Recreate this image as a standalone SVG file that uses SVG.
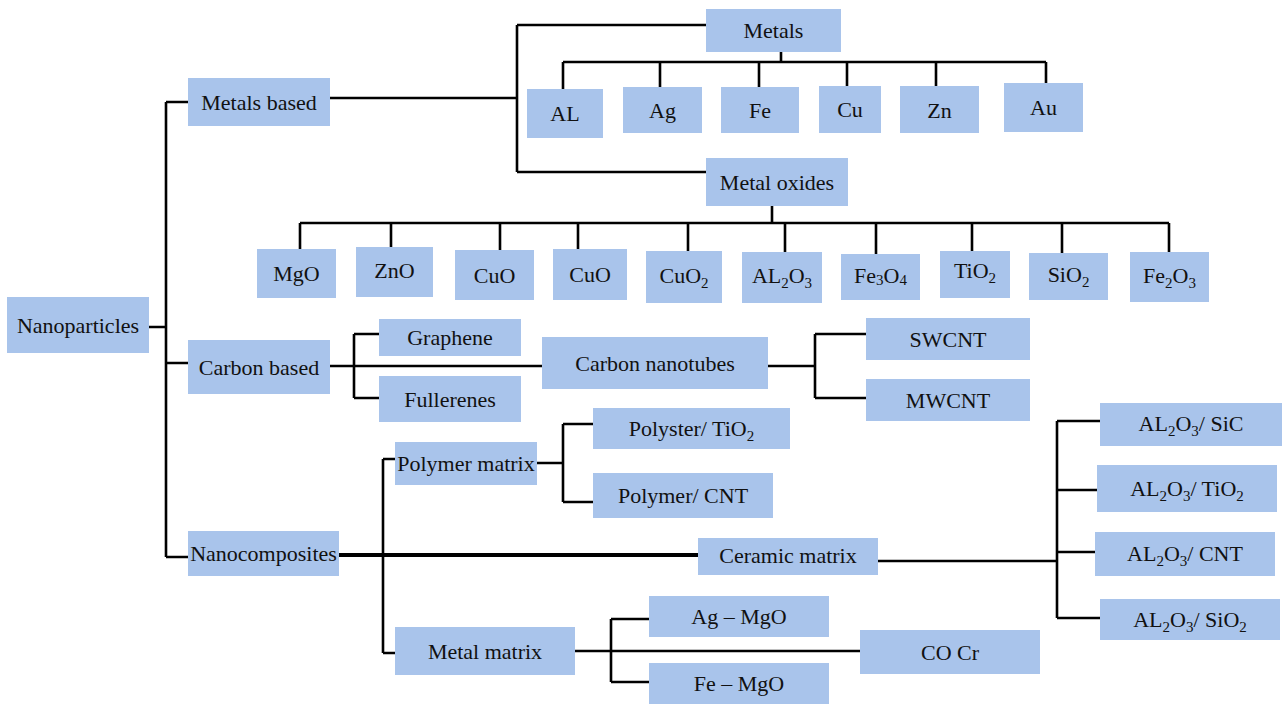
<svg xmlns="http://www.w3.org/2000/svg" width="1282" height="704" viewBox="0 0 1282 704">
<style>
.b{fill:#a9c4eb}
text{font-family:"Liberation Serif","Times New Roman",serif;font-size:22px;fill:#111;text-anchor:middle}
.s{font-size:15px}
.c path{fill:none;stroke:#000;stroke-width:2.6}
</style>
<rect width="1282" height="704" fill="#fff"/>
<g class="c" id="connectors">
<path d="M149 327H166M166 102V557M166 102H188M166 363H188M166 557H188"/>
<path d="M330 98H517M517 25V172M517 25H706M517 172H706"/>
<path d="M781 52V62M563 62H1046M563 62V89M660 62V87M759 62V87M847 62V86M936 62V86M1046 62V83"/>
<path d="M772 206V223M300 223H1169M300 223V249M391 223V247M500 223V250M578 223V249M688 223V251M785 223V252M876 223V254M972 223V251M1062 223V253M1169 223V252"/>
<path d="M330 366H542M354 334V398M354 334H379M354 398H379"/>
<path d="M768 366H815M815 334V398M815 334H866M815 398H866"/>
<path d="M339 555H698" style="stroke-width:4"/>
<path d="M383 459V653M383 459H395M383 653H395"/>
<path d="M537 463H563M563 424V502M563 424H593M563 502H593"/>
<path d="M575 651H860M611 619V682M611 619H649M611 682H649"/>
<path d="M878 561H1057M1057 421V618M1057 421H1100M1057 490H1097M1057 552H1095M1057 618H1100"/>
</g>
<g id="nanoparticles"><rect class="b" x="7" y="297" width="142" height="56"/><text x="78" y="333">Nanoparticles</text></g>
<g id="metals-based"><rect class="b" x="188" y="78" width="142" height="48"/><text x="259" y="110">Metals based</text></g>
<g id="carbon-based"><rect class="b" x="188" y="340" width="142" height="54"/><text x="259" y="375">Carbon based</text></g>
<g id="nanocomposites"><rect class="b" x="188" y="531" width="151" height="45"/><text x="263.5" y="561">Nanocomposites</text></g>
<g id="metals"><rect class="b" x="706" y="9" width="135" height="43"/><text x="773.5" y="38">Metals</text></g>
<g id="al"><rect class="b" x="527" y="89" width="76" height="49"/><text x="565" y="121">AL</text></g>
<g id="ag"><rect class="b" x="623" y="87" width="79" height="46"/><text x="662.5" y="118">Ag</text></g>
<g id="fe"><rect class="b" x="721" y="87" width="78" height="46"/><text x="760" y="118">Fe</text></g>
<g id="cu"><rect class="b" x="819" y="86" width="62" height="47"/><text x="850" y="117">Cu</text></g>
<g id="zn"><rect class="b" x="900" y="86" width="79" height="47"/><text x="939.5" y="118">Zn</text></g>
<g id="au"><rect class="b" x="1004" y="83" width="79" height="49"/><text x="1043.5" y="115">Au</text></g>
<g id="metal-oxides"><rect class="b" x="706" y="158" width="142" height="48"/><text x="777" y="190">Metal oxides</text></g>
<g id="mgo"><rect class="b" x="257" y="249" width="79" height="49"/><text x="296.5" y="281">MgO</text></g>
<g id="zno"><rect class="b" x="356" y="247" width="77" height="50"/><text x="394.5" y="278">ZnO</text></g>
<g id="cuo1"><rect class="b" x="455" y="250" width="79" height="50"/><text x="494.5" y="283">CuO</text></g>
<g id="cuo2"><rect class="b" x="553" y="249" width="74" height="51"/><text x="590" y="282">CuO</text></g>
<g id="cuo-2"><rect class="b" x="646" y="251" width="76" height="52"/><text x="684" y="283">CuO<tspan class="s" dy="5">2</tspan></text></g>
<g id="al2o3"><rect class="b" x="742" y="252" width="80" height="51"/><text x="782" y="283">AL<tspan class="s" dy="5">2</tspan><tspan dy="-5">O</tspan><tspan class="s" dy="5">3</tspan></text></g>
<g id="fe3o4"><rect class="b" x="841" y="254" width="79" height="46"/><text x="880.5" y="283">Fe<tspan class="s" dy="2">3</tspan><tspan dy="-2">O</tspan><tspan class="s" dy="2">4</tspan></text></g>
<g id="tio2"><rect class="b" x="940" y="251" width="70" height="47"/><text x="975" y="278">TiO<tspan class="s" dy="5">2</tspan></text></g>
<g id="sio2"><rect class="b" x="1029" y="253" width="79" height="47"/><text x="1068.5" y="282">SiO<tspan class="s" dy="5">2</tspan></text></g>
<g id="fe2o3"><rect class="b" x="1130" y="252" width="79" height="50"/><text x="1169.5" y="283">Fe<tspan class="s" dy="5">2</tspan><tspan dy="-5">O</tspan><tspan class="s" dy="5">3</tspan></text></g>
<g id="graphene"><rect class="b" x="379" y="319" width="142" height="37"/><text x="450" y="345">Graphene</text></g>
<g id="fullerenes"><rect class="b" x="379" y="376" width="142" height="46"/><text x="450" y="407">Fullerenes</text></g>
<g id="carbon-nanotubes"><rect class="b" x="542" y="337" width="226" height="52"/><text x="655" y="371">Carbon nanotubes</text></g>
<g id="swcnt"><rect class="b" x="866" y="318" width="164" height="42"/><text x="948" y="347">SWCNT</text></g>
<g id="mwcnt"><rect class="b" x="866" y="379" width="164" height="42"/><text x="948" y="408">MWCNT</text></g>
<g id="polymer-matrix"><rect class="b" x="395" y="442" width="142" height="43"/><text x="466" y="471">Polymer matrix</text></g>
<g id="polyster-tio2"><rect class="b" x="593" y="408" width="197" height="41"/><text x="691.5" y="436">Polyster/ TiO<tspan class="s" dy="5">2</tspan></text></g>
<g id="polymer-cnt"><rect class="b" x="593" y="473" width="180" height="45"/><text x="683" y="503">Polymer/ CNT</text></g>
<g id="ceramic-matrix"><rect class="b" x="698" y="538" width="180" height="37"/><text x="788" y="563">Ceramic matrix</text></g>
<g id="metal-matrix"><rect class="b" x="395" y="627" width="180" height="48"/><text x="485" y="659">Metal matrix</text></g>
<g id="ag-mgo"><rect class="b" x="649" y="596" width="180" height="41"/><text x="739" y="624">Ag – MgO</text></g>
<g id="fe-mgo"><rect class="b" x="649" y="663" width="180" height="42"/><text x="739" y="691">Fe – MgO</text></g>
<g id="co-cr"><rect class="b" x="860" y="630" width="180" height="44"/><text x="950" y="660">CO Cr</text></g>
<g id="al2o3-sic"><rect class="b" x="1100" y="403" width="182" height="43"/><text x="1191" y="431">AL<tspan class="s" dy="5">2</tspan><tspan dy="-5">O</tspan><tspan class="s" dy="5">3</tspan><tspan dy="-5">/ SiC</tspan></text></g>
<g id="al2o3-tio2"><rect class="b" x="1097" y="465" width="180" height="47"/><text x="1187" y="496">AL<tspan class="s" dy="5">2</tspan><tspan dy="-5">O</tspan><tspan class="s" dy="5">3</tspan><tspan dy="-5">/ TiO</tspan><tspan class="s" dy="5">2</tspan></text></g>
<g id="al2o3-cnt"><rect class="b" x="1095" y="532" width="180" height="44"/><text x="1185" y="561">AL<tspan class="s" dy="5">2</tspan><tspan dy="-5">O</tspan><tspan class="s" dy="5">3</tspan><tspan dy="-5">/ CNT</tspan></text></g>
<g id="al2o3-sio2"><rect class="b" x="1100" y="599" width="180" height="41"/><text x="1190" y="627">AL<tspan class="s" dy="5">2</tspan><tspan dy="-5">O</tspan><tspan class="s" dy="5">3</tspan><tspan dy="-5">/ SiO</tspan><tspan class="s" dy="5">2</tspan></text></g>
</svg>
